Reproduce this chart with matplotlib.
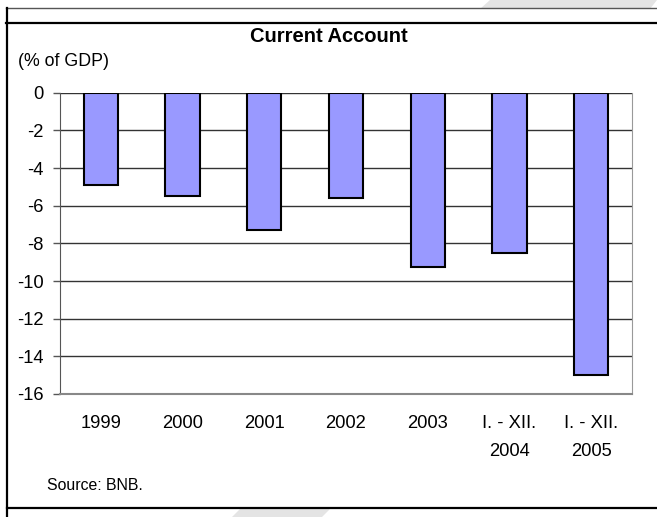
import matplotlib.pyplot as plt
from matplotlib.lines import Line2D
from matplotlib.patches import Polygon

plt.rcParams['font.family'] = ['Liberation Sans', 'DejaVu Sans']

categories = ["1999", "2000", "2001", "2002", "2003", "I. - XII.\n2004", "I. - XII.\n2005"]
values = [-4.9, -5.5, -7.3, -5.6, -9.25, -8.5, -15.0]
yticks = list(range(0, -17, -2))

W, H = 657, 517
fig = plt.figure(figsize=(W / 100, H / 100), dpi=100)

# light grey watermark shapes in the background
def px(x, y):
    return (x / W, 1 - y / H)

for pts in [[(490, 0), (657, 0), (650, 9), (480, 9)],
            [(240, 509), (330, 509), (322, 517), (232, 517)]]:
    fig.patches.append(Polygon([px(*p) for p in pts], closed=True, transform=fig.transFigure,
                               facecolor="#e4e4e4", edgecolor="none", zorder=0))

# frame lines
for (x0, y0, x1, y1, lw, c) in [(6, 8, 657, 8, 1.0, "#555555"),
                                (6, 23, 657, 23, 1.6, "black"),
                                (7, 8, 7, 517, 1.6, "black"),
                                (7, 508, 657, 508, 1.6, "black")]:
    fig.add_artist(Line2D([x0 / W, x1 / W], [1 - y0 / H, 1 - y1 / H], color=c, lw=lw,
                          transform=fig.transFigure))

ax = fig.add_axes([60 / W, (H - 394) / H, (632 - 60) / W, (394 - 92.7) / H])
x = range(len(categories))
ax.bar(x, values, width=0.42, color="#9999FF", edgecolor="black", linewidth=1.5, zorder=3)
ax.set_xlim(-0.5, len(categories) - 0.5)
ax.set_ylim(-16, 0)
ax.set_yticks(yticks)
ax.set_yticklabels([str(t) for t in yticks], fontsize=13.2)
ax.yaxis.grid(True, color="#333333", lw=1.0, zorder=1)
ax.set_axisbelow(True)
ax.tick_params(axis="y", length=5, width=1, color="#555555", pad=7)
ax.tick_params(axis="x", length=0, pad=15)
ax.set_xticks(list(x))
ax.set_xticklabels(categories, fontsize=13.2, linespacing=1.85, va="top")
ax.spines["top"].set_visible(False)
ax.spines["left"].set_color("#555555")
ax.spines["right"].set_color("#999999")
ax.spines["bottom"].set_color("#888888")
ax.spines["bottom"].set_linewidth(1.5)

fig.text(329 / W, 1 - 37 / H, "Current Account", ha="center", va="center",
         fontsize=14.5, fontweight="bold")
fig.text(18 / W, 1 - 62 / H, "(% of GDP)", ha="left", va="center", fontsize=12.8)
fig.text(47 / W, 1 - 485 / H, "Source: BNB.", ha="left", va="center", fontsize=11.4)

fig.savefig("out.png", dpi=100)
